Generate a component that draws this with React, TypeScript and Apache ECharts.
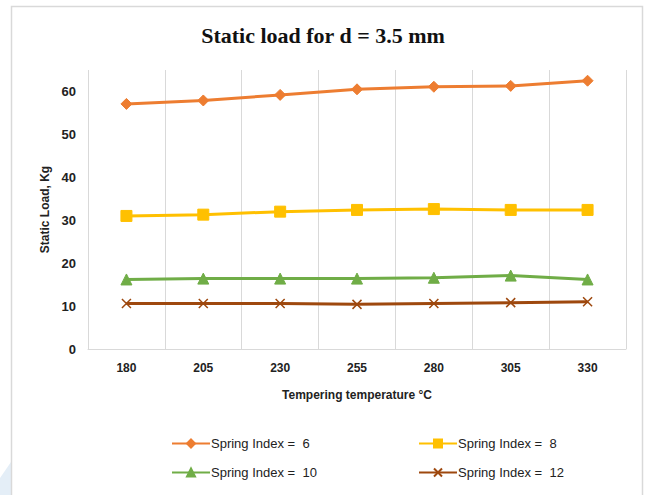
import React, { useEffect, useRef } from "react";
import * as echarts from "echarts";

const temperatures = ["180", "205", "230", "255", "280", "305", "330"];
const index6 = [57.1, 57.9, 59.2, 60.5, 61.1, 61.3, 62.5];
const index8 = [31.0, 31.3, 32.0, 32.4, 32.6, 32.4, 32.4];
const index10 = [16.2, 16.4, 16.4, 16.4, 16.6, 17.1, 16.2];
const index12 = [10.6, 10.6, 10.6, 10.4, 10.6, 10.8, 11.0];
const seriesNames = ["Spring Index =  6", "Spring Index =  8", "Spring Index =  10", "Spring Index =  12"];

const FONT = "'Liberation Sans', Arial, sans-serif";

export default function App() {
  const ref = useRef<HTMLDivElement>(null);
  useEffect(() => {
    if (!ref.current) return;
    const chart = echarts.init(ref.current, undefined, { renderer: "svg" });
    const colors = ["#ED7D31", "#FFC000", "#70AD47", "#9E480E"];
    const mk = (name: string, data: number[], color: string, symbol: string, size: number, xMark = false) => ({
      name,
      type: "line",
      data,
      symbol,
      symbolSize: size,
      lineStyle: { color, width: 3 },
      itemStyle: xMark
        ? { color: "rgba(0,0,0,0)", borderColor: color, borderWidth: 1.5 }
        : { color, borderColor: color, borderWidth: 1 },
      emphasis: { disabled: true },
    });
    chart.setOption({
      animation: false,
      backgroundColor: "#ffffff",
      title: {
        text: "Static load for d = 3.5 mm",
        left: "center",
        top: 19,
        textStyle: {
          fontFamily: "'Liberation Serif', 'Times New Roman', serif",
          fontWeight: "bold",
          fontSize: 22,
          color: "#111111",
        },
      },
      graphic: [
        {
          type: "polygon",
          shape: { points: [[0, 478], [11, 462], [11, 495], [0, 495]] },
          style: { fill: "#E4EEF7" },
          silent: true,
        },
        {
          type: "rect",
          shape: { x: 11.5, y: 6.5, width: 631, height: 495 },
          style: { fill: "none", stroke: "#D9D9D9", lineWidth: 1.5 },
          silent: true,
        },
      ],
      legend: [
        {
          orient: "vertical",
          left: 166,
          top: 432,
          itemWidth: 38,
          itemHeight: 10,
          itemGap: 16,
          data: [seriesNames[0], seriesNames[2]],
          textStyle: { fontFamily: FONT, fontSize: 13, color: "#222222", padding: [0, 0, 0, -4] },
        },
        {
          orient: "vertical",
          left: 413,
          top: 432,
          itemWidth: 38,
          itemHeight: 10,
          itemGap: 16,
          data: [seriesNames[1], seriesNames[3]],
          textStyle: { fontFamily: FONT, fontSize: 13, color: "#222222", padding: [0, 0, 0, -4] },
        },
      ],
      grid: { left: 88, right: 20, top: 70, bottom: 146, containLabel: false },
      xAxis: {
        type: "category",
        data: temperatures,
        boundaryGap: true,
        name: "Tempering temperature °C",
        nameLocation: "middle",
        nameGap: 40,
        nameTextStyle: { fontFamily: FONT, fontWeight: "bold", fontSize: 12, color: "#222222" },
        axisLine: { show: true, lineStyle: { color: "#D9D9D9", width: 1 } },
        axisTick: { show: false },
        splitLine: { show: true, lineStyle: { color: "#D9D9D9", width: 1 } },
        axisLabel: { fontFamily: FONT, fontWeight: "bold", fontSize: 12, color: "#222222", margin: 13 },
      },
      yAxis: {
        type: "value",
        min: 0,
        max: 65,
        interval: 10,
        name: "Static Load, Kg",
        nameLocation: "middle",
        nameGap: 37,
        nameRotate: 90,
        nameTextStyle: { fontFamily: FONT, fontWeight: "bold", fontSize: 12, color: "#222222" },
        axisLine: { show: false },
        axisTick: { show: false },
        splitLine: { show: false },
        axisLabel: { fontFamily: FONT, fontWeight: "bold", fontSize: 13, color: "#222222", margin: 12, showMaxLabel: false },
      },
      series: [
        mk(seriesNames[0], index6, colors[0], "diamond", 11),
        mk(seriesNames[1], index8, colors[1], "rect", 11),
        mk(seriesNames[2], index10, colors[2], "triangle", 11),
        mk(seriesNames[3], index12, colors[3], "path://M0,0L10,10M10,0L0,10", 9, true),
      ],
    });
    return () => chart.dispose();
  }, []);
  return <div ref={ref} style={{ position: "fixed", left: 0, top: 0, width: 646, height: 495 }} />;
}
